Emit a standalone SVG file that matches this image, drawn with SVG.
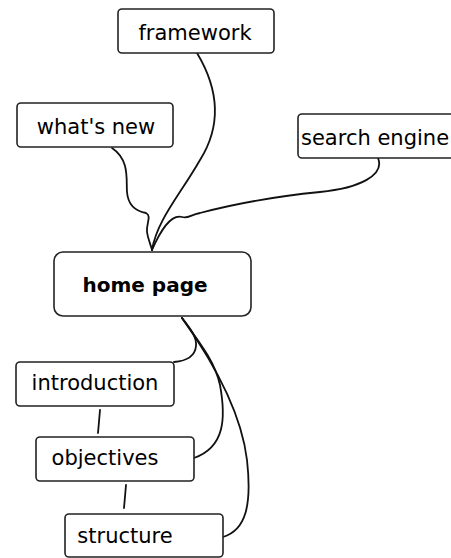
<svg xmlns="http://www.w3.org/2000/svg" width="451" height="558" viewBox="0 0 451 558">
  <style>
    .box { fill: #fff; stroke: #222; stroke-width: 1.6; }
    .lbl { font-family: "DejaVu Sans", Verdana, sans-serif; font-size: 21px; fill: #000; }
    .main { font-weight: bold; font-size: 20px; }
    .wire { fill: none; stroke: #111; stroke-width: 1.8; stroke-linecap: round; }
  </style>
  <rect width="451" height="558" fill="#fff"/>

  <g id="connectors">
    <!-- parents into home page -->
    <path class="wire" d="M197,53 C218,88 222,125 200,160 C180,195 157,220 152,250"/>
    <path class="wire" d="M112,148 C130,160 126,180 127,192 C128,205 135,211 146,213 C152,216 146,224 147,232 C148,240 151,245 152,250"/>
    <path class="wire" d="M378,158 C385,175 360,188 320,192 C270,197 230,205 200,213 C190,215 188,219 182,217 C170,214 160,232 152,250"/>
    <!-- home page down to its children -->
    <path class="wire" d="M182,318 C190,328 197,337 196,346 C195,357 186,361 174,362"/>
    <path class="wire" d="M182,318 C200,343 215,362 220,385 C226,418 225,447 194,458"/>
    <path class="wire" d="M182,318 C212,360 241,410 247,460 C252,505 246,530 223,537"/>
    <!-- sequence links -->
    <path class="wire" d="M100,410 L98,433"/>
    <path class="wire" d="M126,485 L124,508"/>
  </g>

  <g id="framework">
    <rect class="box" x="118" y="9" width="156" height="44" rx="4"/>
    <text class="lbl" x="195" y="40" text-anchor="middle">framework</text>
  </g>
  <g id="whats-new">
    <rect class="box" x="17" y="103" width="156" height="44" rx="4"/>
    <text class="lbl" x="96" y="134" text-anchor="middle">what's new</text>
  </g>
  <g id="search-engine">
    <rect class="box" x="298" y="114" width="160" height="44" rx="4"/>
    <text class="lbl" x="301" y="145">search engine</text>
  </g>
  <g id="home-page">
    <rect class="box" x="54" y="252" width="197" height="64" rx="9"/>
    <text class="lbl main" x="145" y="292" text-anchor="middle">home page</text>
  </g>
  <g id="introduction">
    <rect class="box" x="16" y="362" width="158" height="44" rx="4"/>
    <text class="lbl" x="95" y="390" text-anchor="middle">introduction</text>
  </g>
  <g id="objectives">
    <rect class="box" x="36" y="437" width="158" height="44" rx="4"/>
    <text class="lbl" x="105" y="465" text-anchor="middle">objectives</text>
  </g>
  <g id="structure">
    <rect class="box" x="65" y="514" width="158" height="43" rx="4"/>
    <text class="lbl" x="125" y="543" text-anchor="middle">structure</text>
  </g>
</svg>
